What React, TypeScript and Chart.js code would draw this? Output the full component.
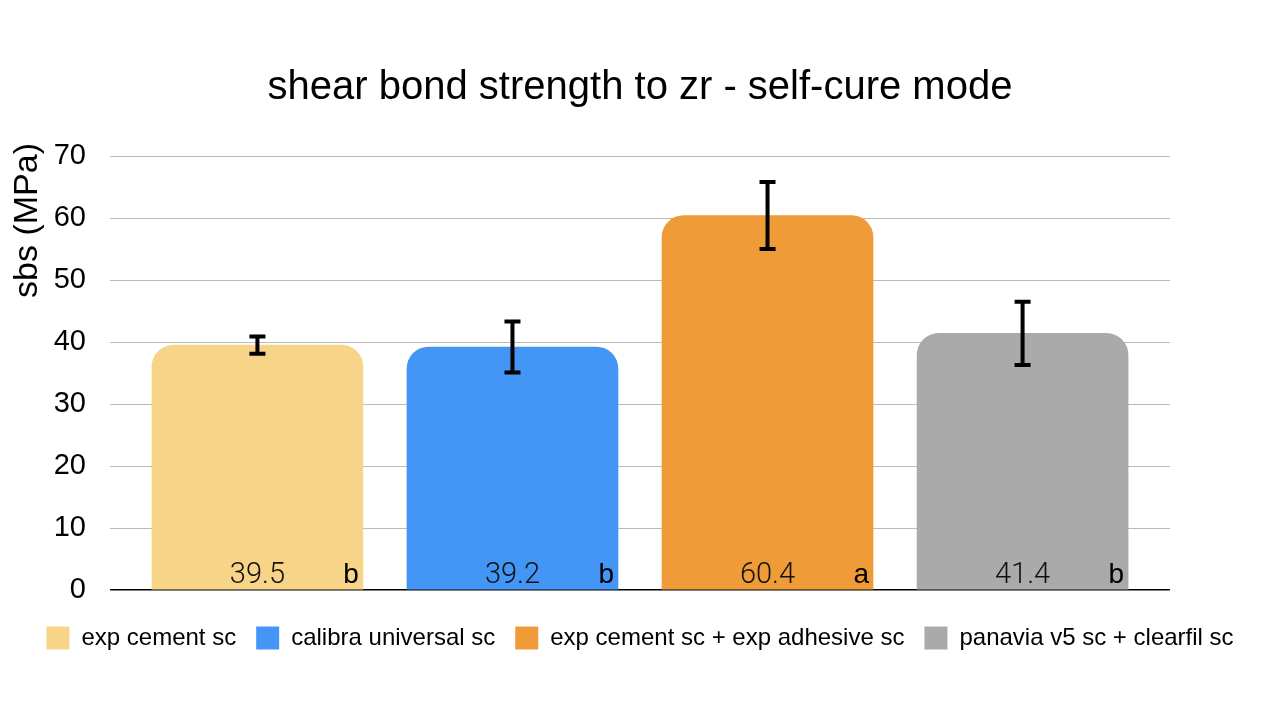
import React, { useEffect, useRef } from "react";
import { Chart, registerables, ChartConfiguration, Plugin } from "chart.js";

Chart.register(...registerables);

const FONT = '"Liberation Sans", Arial, Helvetica, sans-serif';

// values
const groups: string[] = [
  "exp cement sc",
  "calibra universal sc",
  "exp cement sc + exp adhesive sc",
  "panavia v5 sc + clearfil sc",
];
const means: number[] = [39.5, 39.2, 60.4, 41.4];
const errors: number[] = [1.4, 4.1, 5.4, 5.1];
const letters: string[] = ["b", "b", "a", "b"];
const colors: string[] = ["#F7D487", "#4395F6", "#EF9B38", "#AAAAAA"];
const yTicks: number[] = [0, 10, 20, 30, 40, 50, 60, 70];

// error bars, mean labels inside bars and significance letters
const barExtras: Plugin<"bar"> = {
  id: "barExtras",
  afterDatasetsDraw(chart) {
    const { ctx } = chart;
    const y = chart.scales.y;
    const base = y.getPixelForValue(0);
    chart.data.datasets.forEach((_, di) => {
      const meta = chart.getDatasetMeta(di);
      const bar: any = meta.data[0];
      if (!bar) return;
      const x = bar.x;
      const half = bar.width / 2;
      const hi = y.getPixelForValue(means[di] + errors[di]);
      const lo = y.getPixelForValue(means[di] - errors[di]);
      ctx.save();
      ctx.strokeStyle = "#000";
      ctx.lineWidth = 4;
      ctx.beginPath();
      ctx.moveTo(x, hi);
      ctx.lineTo(x, lo);
      ctx.moveTo(x - 8, hi);
      ctx.lineTo(x + 8, hi);
      ctx.moveTo(x - 8, lo);
      ctx.lineTo(x + 8, lo);
      ctx.stroke();

      ctx.fillStyle = "#111";
      ctx.textBaseline = "alphabetic";
      ctx.textAlign = "center";
      ctx.font = `300 29px Roboto, ${FONT}`;
      ctx.fillText(means[di].toFixed(1), x, base - 7);
      ctx.textAlign = "right";
      ctx.font = `28px ${FONT}`;
      ctx.fillStyle = "#000";
      ctx.fillText(letters[di], x + half - 4, base - 7);
      ctx.restore();
    });
  },
};

// rotated axis title, sitting toward the top of the axis
const yTitle: Plugin<"bar"> = {
  id: "yTitle",
  afterDraw(chart) {
    const { ctx } = chart;
    const top = chart.chartArea.top;
    ctx.save();
    ctx.translate(28, top - 13);
    ctx.rotate(-Math.PI / 2);
    ctx.font = `34px ${FONT}`;
    ctx.fillStyle = "#000";
    ctx.textAlign = "right";
    ctx.textBaseline = "middle";
    ctx.fillText("sbs (MPa)", 0, 0);
    ctx.restore();
  },
};

const App: React.FC = () => {
  const canvasRef = useRef<HTMLCanvasElement>(null);

  useEffect(() => {
    if (!canvasRef.current) return;
    Chart.defaults.font.family = FONT;
    Chart.defaults.color = "#000";

    const config: ChartConfiguration<"bar"> = {
      type: "bar",
      data: {
        datasets: groups.map((g, i) => ({
          label: g,
          data: [{ x: i, y: means[i] }],
          backgroundColor: colors[i],
          borderWidth: 0,
          borderRadius: 22,
          grouped: false,
          barThickness: 211,
        })),
      },
      options: {
        responsive: true,
        maintainAspectRatio: false,
        animation: false,
        layout: { padding: { left: 0, right: 0, top: 0, bottom: 60 } },
        plugins: {
          title: {
            display: true,
            text: "shear bond strength to zr - self-cure mode",
            color: "#000",
            font: { size: 40, weight: "normal" },
            padding: { top: 64, bottom: 44 },
          },
          legend: {
            position: "bottom",
            labels: {
              boxWidth: 23,
              boxHeight: 23,
              padding: 20,
              color: "#000",
              font: { size: 24 },
            },
          },
          tooltip: { enabled: false },
        },
        scales: {
          x: {
            type: "linear",
            min: -0.578,
            max: 3.578,
            offset: false,
            ticks: { display: false },
            grid: { display: false },
            border: { display: false },
            afterFit: (scale) => {
              scale.height = 16;
            },
          },
          y: {
            min: 0,
            max: 70,
            afterBuildTicks: (scale) => {
              scale.ticks = yTicks.map((v) => ({ value: v }));
            },
            afterFit: (scale) => {
              scale.width = 110;
            },
            ticks: {
              color: "#000",
              font: { size: 29 },
              padding: 24,
            },
            grid: {
              drawTicks: false,
              color: (c) => (c.tick && c.tick.value === 0 ? "#000" : "#BABABA"),
              lineWidth: (c) => (c.tick && c.tick.value === 0 ? 1.5 : 1),
            },
            border: { display: false },
          },
          // empty right-hand margin, same width as the left axis
          yRight: {
            type: "linear",
            position: "right",
            ticks: { display: false },
            grid: { display: false },
            border: { display: false },
            afterFit: (scale) => {
              scale.width = 110;
            },
          },
        },
      },
      plugins: [barExtras, yTitle],
    };

    const chart = new Chart(canvasRef.current, config);
    return () => chart.destroy();
  }, []);

  return (
    <div
      style={{
        position: "fixed",
        left: 0,
        top: 0,
        width: "1280px",
        height: "720px",
        background: "#fff",
      }}
    >
      <canvas ref={canvasRef}></canvas>
    </div>
  );
};

export default App;
